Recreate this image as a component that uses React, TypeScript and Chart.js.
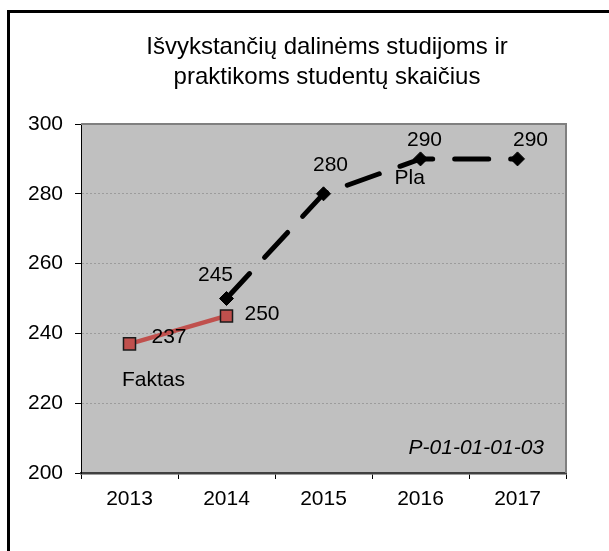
import React, { useEffect, useRef } from "react";
import { Chart, registerables } from "chart.js";

Chart.register(...registerables);

// ---- data ----
const categories = ["2013", "2014", "2015", "2016", "2017"];
const faktasValues: (number | null)[] = [237, 245, null, null, null];
const planasValues: (number | null)[] = [null, 250, 280, 290, 290];
const faktasLabelTexts: (string | null)[] = ["237", "250", null, null, null];
const planasLabelTexts: (string | null)[] = [null, "245", "280", "290", "290"];
const yTickValues = [200, 220, 240, 260, 280, 300];
const titleLines = ["Išvykstančių dalinėms studijoms ir", "praktikoms studentų skaičius"];
const codeText = "P-01-01-01-03";
const faktasName = "Faktas";
const planasShortName = "Pla";

const FONT = "'Liberation Sans', Arial, sans-serif";

const decorPlugin = {
  id: "decor",
  beforeDraw(chart: any) {
    const { ctx, chartArea: a, width, height } = chart;
    ctx.save();
    ctx.fillStyle = "#ffffff";
    ctx.fillRect(0, 0, width, height);
    ctx.fillStyle = "#C0C0C0";
    ctx.fillRect(a.left, a.top, a.right - a.left, a.bottom - a.top);
    // outer frame (top and left visible)
    ctx.fillStyle = "#000000";
    ctx.fillRect(7, 10, width - 7, 3);
    ctx.fillRect(7, 10, 3, height - 10);
    // title
    ctx.font = `24px ${FONT}`;
    ctx.textAlign = "center";
    ctx.textBaseline = "middle";
    titleLines.forEach((t, i) => ctx.fillText(t, 327, 47 + i * 30));
    ctx.restore();
  },
  beforeDatasetsDraw(chart: any) {
    const { ctx, chartArea: a } = chart;
    ctx.save();
    ctx.strokeStyle = "#808080";
    ctx.lineWidth = 2;
    ctx.beginPath();
    ctx.moveTo(a.left, a.top);
    ctx.lineTo(a.right, a.top);
    ctx.lineTo(a.right, a.bottom);
    ctx.stroke();
    ctx.fillStyle = "#000000";
    ctx.font = `italic 21px ${FONT}`;
    ctx.textAlign = "right";
    ctx.textBaseline = "middle";
    ctx.fillText(codeText, a.right - 22, a.bottom - 25);
    ctx.restore();
  },
  afterDatasetsDraw(chart: any, _args: any, opts: any) {
    const { ctx } = chart;
    ctx.save();
    ctx.fillStyle = "#000000";
    ctx.font = `21px ${FONT}`;
    ctx.textBaseline = "middle";
    (opts.series || []).forEach((s: any) => {
      const meta = chart.getDatasetMeta(s.dataset);
      s.texts.forEach((t: string | null, i: number) => {
        if (!t) return;
        const el = meta.data[i];
        if (!el) return;
        const [dx, dy, align] = s.offsets[i];
        ctx.textAlign = align;
        ctx.fillText(t, el.x + dx, el.y + dy);
      });
    });
    (opts.names || []).forEach((n: any) => {
      const el = chart.getDatasetMeta(n.dataset).data[n.index];
      ctx.textAlign = n.align;
      ctx.fillText(n.text, el.x + n.dx, el.y + n.dy);
    });
    ctx.restore();
  },
};

export default function App() {
  const ref = useRef<HTMLCanvasElement | null>(null);

  useEffect(() => {
    if (!ref.current) return;
    const chart = new Chart(ref.current, {
      type: "line",
      data: {
        labels: categories,
        datasets: [
          {
            label: "Faktas",
            data: faktasValues,
            borderColor: "#C0504D",
            backgroundColor: "#C0504D",
            borderWidth: 4.5,
            pointStyle: "rect",
            pointRadius: 8.5,
            pointBackgroundColor: "#C0504D",
            pointBorderColor: "#1a1a1a",
            pointBorderWidth: 1.5,
            tension: 0,
          },
          {
            label: "Planas",
            data: planasValues,
            borderColor: "#000000",
            backgroundColor: "#000000",
            borderWidth: 5,
            borderDash: [34, 22],
            borderCapStyle: "round",
            pointStyle: "rectRot",
            pointRadius: 7,
            pointBackgroundColor: "#000000",
            pointBorderColor: "#000000",
            pointBorderWidth: 1,
            tension: 0,
          },
        ],
      },
      options: {
        animation: false,
        responsive: false,
        devicePixelRatio: 1,
        events: [],
        layout: { padding: { left: 0, top: 124, right: 43, bottom: 0 } },
        plugins: {
          legend: { display: false },
          title: { display: false },
          tooltip: { enabled: false },
          decor: {
            series: [
              {
                dataset: 0,
                texts: faktasLabelTexts,
                offsets: [
                  [22, -7, "left"],
                  [18, -2, "left"],
                ],
              },
              {
                dataset: 1,
                texts: planasLabelTexts,
                offsets: [
                  [0, 0, "center"],
                  [-11, -23, "center"],
                  [7, -29, "center"],
                  [4, -19, "center"],
                  [13, -19, "center"],
                ],
              },
            ],
            names: [
              { dataset: 0, index: 0, text: faktasName, dx: 24, dy: 36, align: "center" },
              { dataset: 1, index: 3, text: planasShortName, dx: -26, dy: 19, align: "left" },
            ],
          },
        } as any,
        scales: {
          x: {
            type: "category",
            offset: true,
            afterFit: (s: any) => {
              s.height = 78;
            },
            grid: {
              offset: true,
              display: true,
              drawOnChartArea: false,
              drawTicks: true,
              tickLength: 6,
              tickColor: "#000000",
              tickWidth: 1,
              color: "rgba(0,0,0,0)",
            },
            border: { display: true, color: "#404040", width: 2.5 },
            ticks: {
              color: "#000000",
              font: { family: FONT, size: 21 },
              padding: 8,
              maxRotation: 0,
              autoSkip: false,
            },
          },
          y: {
            min: 200,
            max: 300,
            afterFit: (s: any) => {
              s.width = 81;
            },
            afterBuildTicks: (s: any) => {
              s.ticks = yTickValues.map((v) => ({ value: v }));
            },
            grid: {
              drawTicks: true,
              tickLength: 6,
              tickColor: "#000000",
              tickWidth: 1,
              lineWidth: 1,
              color: (c: any) =>
                c.tick && (c.tick.value === 200 || c.tick.value === 300)
                  ? "rgba(0,0,0,0)"
                  : "#9c9c9c",
            },
            border: { display: true, color: "#000000", width: 1, dash: [2, 2] },
            ticks: {
              color: "#000000",
              font: { family: FONT, size: 21 },
              padding: 12,
            },
          },
        },
      },
      plugins: [decorPlugin],
    });
    return () => chart.destroy();
  }, []);

  return (
    <div
      style={{
        position: "fixed",
        left: 0,
        top: 0,
        width: 609,
        height: 551,
        background: "#ffffff",
      }}
    >
      <canvas ref={ref} width={609} height={551} style={{ display: "block", width: 609, height: 551 }} />
    </div>
  );
}
